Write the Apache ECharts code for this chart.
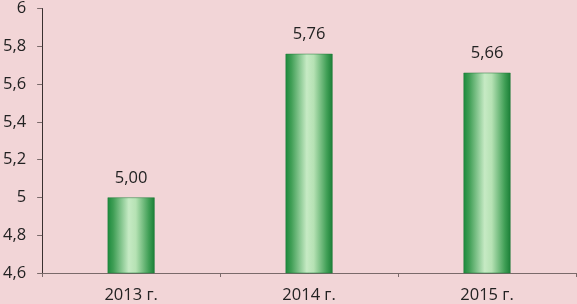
<!DOCTYPE html>
<html><head><meta charset="utf-8">
<script src="https://cdn.jsdelivr.net/npm/echarts@6/dist/echarts.min.js"></script>
<style>html,body{margin:0;padding:0;background:#f2d5d7;}#c{width:577px;height:304px;}</style>
</head><body><div id="c"></div>
<script>
const categories = ['2013 г.', '2014 г.', '2015 г.'];
const values = [5.00, 5.76, 5.66];
const yMin = 4.6, yMax = 6, yStep = 0.2;

const chart = echarts.init(document.getElementById('c'), null, {renderer: 'canvas'});
const fmt = v => v.toFixed(2).replace('.', ',');
const axisFmt = v => (Math.round(v * 10) / 10).toString().replace('.', ',');
chart.setOption({
  backgroundColor: '#f2d5d7',
  animation: false,
  grid: {left: 41, right: 1, top: 6, bottom: 31},
  xAxis: {
    type: 'category', data: categories, boundaryGap: true,
    axisLine: {lineStyle: {color: '#7a6a6a', width: 1}},
    axisTick: {show: true, inside: false, length: 4, lineStyle: {color: '#7a6a6a'}},
    axisLabel: {color: '#222', fontFamily: 'Open Sans', fontSize: 16.5, margin: 14}
  },
  yAxis: {
    type: 'value', min: yMin, max: yMax, interval: yStep,
    splitLine: {show: false},
    axisLine: {show: true, lineStyle: {color: '#3a3030', width: 1}},
    axisTick: {show: true, length: 5, lineStyle: {color: '#7a6a6a'}},
    axisLabel: {color: '#222', fontFamily: 'Open Sans', fontSize: 16.5, margin: 16, formatter: axisFmt}
  },
  series: [{
    type: 'bar', data: values, barWidth: 47,
    itemStyle: {
      color: new echarts.graphic.LinearGradient(0, 0, 1, 0, [
        {offset: 0, color: '#1b8a3c'},
        {offset: 0.12, color: '#3f9e55'},
        {offset: 0.45, color: '#c6eac4'},
        {offset: 0.6, color: '#b6e2b4'},
        {offset: 0.88, color: '#3f9e55'},
        {offset: 1, color: '#1a7e36'}
      ]),
      borderColor: '#1f7a38', borderWidth: 0.5
    },
    label: {show: true, position: 'top', distance: 11, color: '#222',
      fontFamily: 'Open Sans', fontSize: 16.5, formatter: p => fmt(p.value)}
  }]
});
</script></body></html>
